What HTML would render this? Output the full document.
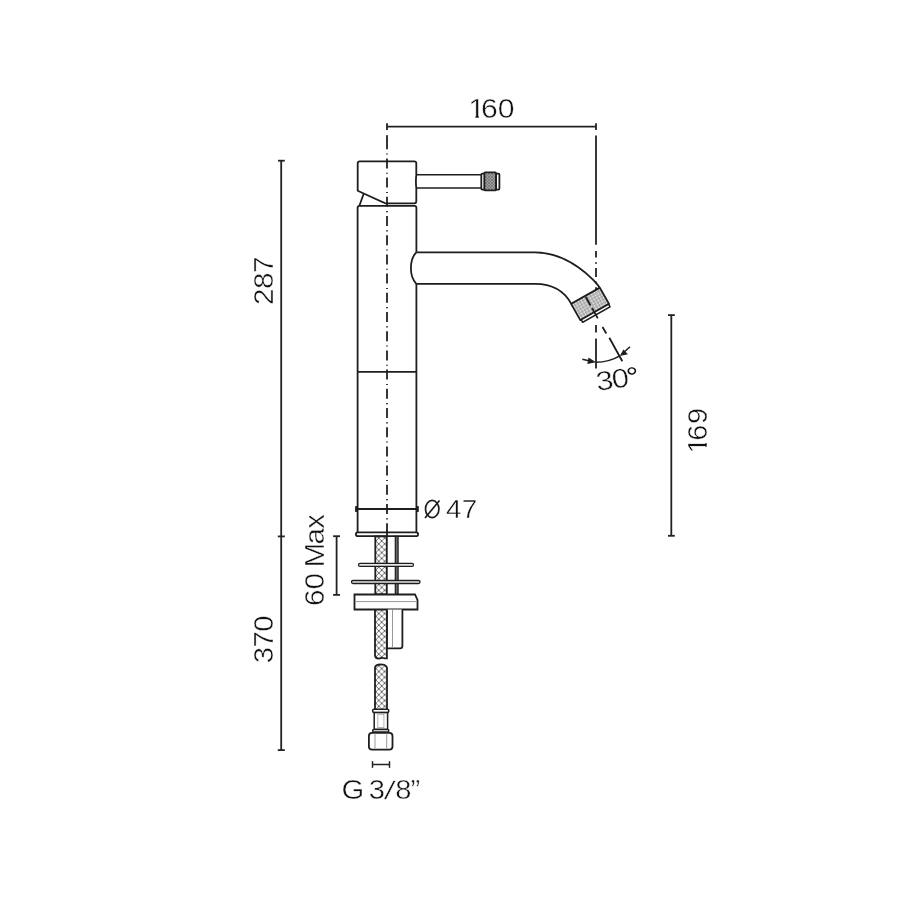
<!DOCTYPE html>
<html><head><meta charset="utf-8"><style>
html,body{margin:0;padding:0;background:#fff;width:900px;height:900px;overflow:hidden}
svg{display:block;will-change:transform}
text{font-family:"Liberation Sans",sans-serif;fill:#111;stroke:#fff;stroke-width:0.45px}
</style></head><body>
<svg width="900" height="900" viewBox="0 0 900 900">
<defs>
<pattern id="xh" patternUnits="userSpaceOnUse" width="5.8" height="5.8" patternTransform="translate(375.9,1.6)">
<path d="M0,0 L5.8,5.8 M5.8,0 L0,5.8" stroke="#3a3a3a" stroke-width="0.75"/>
</pattern>
<pattern id="kn" patternUnits="userSpaceOnUse" width="3" height="3">
<rect width="3" height="3" fill="#9c9c9c"/><path d="M0,3 L3,0 M0,0 L3,3" stroke="#6a6a6a" stroke-width="0.6"/>
</pattern>
<pattern id="ae" patternUnits="userSpaceOnUse" width="3" height="3">
<rect width="3" height="3" fill="#a6a6a6"/><circle cx="1.5" cy="1.5" r="0.9" fill="#f4f4f4"/>
</pattern>
</defs>

<g fill="none" stroke="#222" stroke-width="1.8" stroke-linecap="butt">
<!-- top dimension 160 -->
<line x1="387" y1="126.6" x2="596" y2="126.6"/>
<line x1="387" y1="123.3" x2="387" y2="130"/>
<line x1="596" y1="123.3" x2="596" y2="130"/>
<!-- right extension line -->
<line x1="596" y1="135.6" x2="596" y2="244.8"/>
<path d="M596,251 V257.6 M596,262.2 V263.8 M596,268.1 V277 M596,281.6 V283.2 M596,287.3 V295.3 M596,325 V332.5 M596,338.5 V368.5"/>

<!-- left dimension 287/370 -->
<line x1="281.2" y1="160.7" x2="281.2" y2="750.1"/>
<line x1="278" y1="160.7" x2="284.8" y2="160.7"/>
<line x1="277.8" y1="536.4" x2="284.8" y2="536.4"/>
<line x1="277.8" y1="750.1" x2="284.8" y2="750.1"/>

<!-- 60 max -->
<line x1="336.6" y1="536.2" x2="336.6" y2="594.9"/>
<line x1="333.1" y1="536.2" x2="340" y2="536.2"/>
<line x1="333.1" y1="594.9" x2="340" y2="594.9"/>

<!-- 169 -->
<line x1="671.3" y1="315.1" x2="671.3" y2="535.8"/>
<line x1="668" y1="315.1" x2="674.8" y2="315.1"/>
<line x1="668" y1="535.8" x2="674.8" y2="535.8"/>

<!-- G 3/8 small dim -->
<line x1="372.5" y1="764.5" x2="389.5" y2="764.5" stroke-width="1.5"/>
<line x1="372.5" y1="761.2" x2="372.5" y2="767.8" stroke-width="1.5"/>
<line x1="389.5" y1="761.2" x2="389.5" y2="767.8" stroke-width="1.5"/>

<!-- centerline -->
<line x1="387" y1="135.3" x2="387" y2="140"/>
<line x1="387" y1="530" x2="387" y2="537"/>
<line x1="387" y1="135.3" x2="387" y2="537" stroke-dasharray="10 4.3 1.1 3.8" stroke-dashoffset="-3.9"/>
</g>

<!-- faucet -->
<g fill="none" stroke="#1e1e1e" stroke-width="1.8" stroke-linejoin="round">
<!-- handle -->
<path d="M357.7,163.3 Q357.7,161.3 359.7,161.3 L414.3,161.3 Q416.3,161.3 416.3,163.3 L416.3,174.8 Q415.5,181.4 416.3,188 L416.3,201.3 Q416.3,203.3 414.3,203.3 L385.3,203.3 L357.7,190.7 Z"/>
<line x1="363.7" y1="193.7" x2="359.3" y2="206"/>
<line x1="416.3" y1="174.8" x2="481.5" y2="174.8" stroke-width="1.6"/>
<line x1="416.3" y1="188" x2="481.5" y2="188" stroke-width="1.6"/>
<rect x="484.2" y="172.4" width="11.9" height="18" rx="1" fill="url(#kn)"/>
<rect x="481.3" y="173.6" width="3" height="16" rx="1" fill="#fff"/>
<rect x="496.1" y="173.6" width="3.3" height="16" rx="1" fill="#fff"/>

<!-- body -->
<path d="M357.6,532.2 V207.8 Q357.6,205.8 359.6,205.8 H414.4 Q416.4,205.8 416.4,207.8 V252.3 M416.4,283.8 V532.2"/>
<line x1="357.6" y1="371.9" x2="416.4" y2="371.9"/>
<line x1="357.6" y1="509" x2="416.4" y2="509"/>
<line x1="356.3" y1="506.1" x2="356.3" y2="511.9" stroke-width="2.4"/>
<line x1="417.6" y1="506.1" x2="417.6" y2="511.9" stroke-width="2.4"/>
<rect x="355.9" y="532.4" width="62.2" height="3.8" rx="1.9" fill="#fff" fill-opacity="0"/>

<!-- spout -->
<path d="M416.3,252.3 H535 C569,252.3 595.7,280.9 599.7,287.8"/>
<path d="M416.3,283.8 H535 C553,283.8 565,292 571.3,303.9"/>
<path d="M416.3,252.3 C412.3,256.5 410.9,262 410.9,268 C410.9,274 412.3,279.5 416.3,283.8"/>
<!-- aerator -->
<g transform="translate(571.1,303.9) rotate(-29.5)">
<rect x="0" y="0" width="33" height="18.7" fill="url(#ae)"/>
<rect x="1" y="18.7" width="31.5" height="3" fill="#fff" stroke-width="1.5"/>
</g>
</g>

<!-- angle dimension -->
<g fill="none" stroke="#1e1e1e" stroke-width="1.8">
<path d="M585.8,297 L590.5,305.5 M592,308 L597.8,318.4 M602.5,327 L606.3,333.5 M609.3,337.7 L622.3,361.3"/>
<path d="M596,362.3 A47.7,47.7 0 0 0 619.8,355.9" stroke-width="1.5"/>
<line x1="582.3" y1="359.3" x2="590" y2="361" stroke-width="1.5"/>
<line x1="630" y1="346.7" x2="624.5" y2="351.8" stroke-width="1.5"/>
</g>
<path d="M596,362.3 L588.6,357.6 L587.3,364 Z" fill="#1e1e1e"/>
<path d="M619.8,355.9 L627.9,354.2 L623.4,349.5 Z" fill="#1e1e1e"/>

<!-- mounting hardware -->
<g fill="none" stroke="#1e1e1e" stroke-width="1.8">
<rect x="375.3" y="536.4" width="11.5" height="58" fill="url(#xh)"/>
<rect x="395.3" y="536.4" width="2.8" height="58" fill="#666" stroke-width="1.2"/>
<rect x="358.5" y="563.4" width="55" height="3" rx="1.5" fill="#e6e6e6" stroke-width="1.3"/>
<rect x="351.5" y="580.5" width="68.5" height="3" rx="1.5" fill="#e6e6e6" stroke-width="1.3"/>
<path d="M354.5,594.5 H415 L417.5,600 V609.5 H354.5 Z" fill="#fff"/>
<line x1="355.5" y1="601.6" x2="416.5" y2="601.6" stroke="#999" stroke-width="1"/>
<!-- tube -->
<path d="M386.9,609.5 V648.4 H400 Q402.4,648.4 402.4,646 V609.5" fill="#fff"/>
<line x1="392.5" y1="610" x2="392.5" y2="647.5" stroke="#999" stroke-width="1"/>
<!-- hose upper -->
<path d="M375,609.5 V655.5 Q375.5,658.7 379,658.6 Q382,657.2 384.5,658.3 L386.9,658.3 V609.5" fill="url(#xh)"/>
<!-- hose lower -->
<path d="M375,709.4 V667.5 Q375.5,664.5 380.5,664.3 Q386.5,664.5 387,668 V709.4" fill="url(#xh)"/>
<rect x="372.6" y="709.3" width="16.2" height="3.3" rx="1.5" fill="#fff" stroke-width="1.5"/>
<rect x="374.2" y="712.6" width="13.4" height="16.8" fill="#fff" stroke-width="1.5"/>
<rect x="377.8" y="714.3" width="6.1" height="13.2" stroke="#aaa" stroke-width="0.9"/>

<rect x="372.6" y="729.4" width="16.2" height="2.6" rx="1.3" fill="#fff" stroke-width="1.5"/>
<rect x="368.9" y="732.8" width="23.6" height="16.8" rx="3.2" fill="#fff"/>
<line x1="375" y1="733.5" x2="375" y2="748.5" stroke="#999" stroke-width="1"/>
<line x1="386.7" y1="733.5" x2="386.7" y2="748.5" stroke="#999" stroke-width="1"/>
</g>

<!-- Ø symbol -->
<g fill="none" stroke="#1e1e1e" stroke-width="1.7">
<ellipse cx="432.2" cy="509" rx="6.7" ry="8.6"/>
<line x1="425" y1="518" x2="439.5" y2="500.5"/>
</g>

<!-- texts -->
<clipPath id="c1_1" clipPathUnits="userSpaceOnUse"><path d="M2.33,-30 H27.33 V-3.3 H16.80 V3 H13.82 V-3.3 H2.33 Z"/></clipPath>
<text transform="translate(460.00,117.60) scale(1.12,1)" font-size="27" clip-path="url(#c1_1)"><tspan x="7.33">1</tspan></text>
<text transform="translate(460.00,117.60) scale(1.12,1)" font-size="27" y="0.0"><tspan x="18.78">6</tspan><tspan x="33.65">0</tspan></text>
<text transform="translate(272.60,310.00) rotate(-90) scale(1.1,1)" font-size="27" y="0.0"><tspan x="4.58">2</tspan><tspan x="19.04">8</tspan><tspan x="33.75">7</tspan></text>
<text transform="translate(272.80,670.00) rotate(-90) scale(1.085,1)" font-size="27" y="0.0"><tspan x="6.21">3</tspan><tspan x="20.64">7</tspan><tspan x="35.35">0</tspan></text>
<clipPath id="c1_2" clipPathUnits="userSpaceOnUse"><path d="M-3.55,-30 H21.45 V-3.3 H10.93 V3 H7.94 V-3.3 H-3.55 Z"/></clipPath>
<text transform="translate(707.00,455.00) rotate(-90) scale(1.07,1)" font-size="27" clip-path="url(#c1_2)"><tspan x="1.45">1</tspan></text>
<text transform="translate(707.00,455.00) rotate(-90) scale(1.07,1)" font-size="27" y="0.0"><tspan x="13.29">6</tspan><tspan x="28.95">9</tspan></text>
<text transform="translate(323.90,610.00) rotate(-90) scale(1.1,1)" font-size="27" y="0.0"><tspan x="3.76">6</tspan><tspan x="18.67">0</tspan> <tspan x="38.57">M</tspan><tspan x="59.53">a</tspan><tspan x="73.93">x</tspan></text>
<text transform="translate(440.00,518.00) scale(1.035,0.95)" font-size="27" y="0.0"><tspan x="5.91">4</tspan><tspan x="20.98">7</tspan></text>
<text transform="translate(335.00,798.70) scale(1.08,1)" font-size="27" y="0.0"><tspan x="5.99">G</tspan> <tspan x="31.23">3</tspan><tspan x="45.31" rotate="10">/</tspan><tspan x="55.83">8</tspan><tspan x="69.81">”</tspan></text>
<text transform="translate(597.00,391.00) rotate(-8) scale(1.16,1)" font-size="27" y="0.0"><tspan x="0.14">3</tspan><tspan x="13.87">0</tspan><tspan x="26.81" style="stroke:none">°</tspan></text>
</svg>
</body></html>
